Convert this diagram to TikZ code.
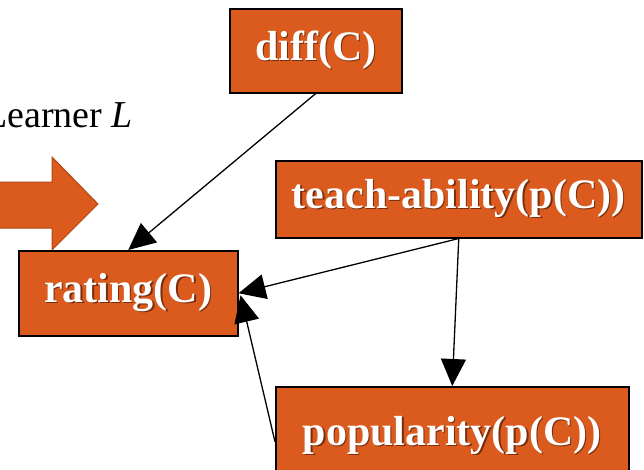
\documentclass[tikz,border=0pt]{standalone}
\usepackage{fontspec}
\setmainfont{Liberation Serif}
\usetikzlibrary{arrows.meta}

\definecolor{boxorange}{RGB}{218,91,29}
\definecolor{arrowedge}{RGB}{180,72,20}
\definecolor{txtshadow}{RGB}{120,45,12}

% white label with a soft dark drop shadow
\newcommand\shadowed[1]{\makebox[0pt][l]{\hspace{1.3pt}\raisebox{-1.3pt}{\color{txtshadow}#1}}#1}

\tikzset{
  varbox/.style={draw=black, line width=1.5pt, fill=boxorange, text=white,
    font=\fontsize{42}{42}\selectfont\bfseries, inner sep=0pt, anchor=north west},
  link/.style={-{Triangle[length=27pt,width=25pt]}, line width=1.3pt},
}

\begin{document}
\begin{tikzpicture}[x=1pt, y=-1pt]
  \useasboundingbox (0,0) rectangle (644,469);
  \clip (0,0) rectangle (644,469);

  % caption on the left, partly outside the frame
  \node[anchor=base east, inner sep=0pt, font=\fontsize{38}{38}\selectfont] (learner)
    at (133,127) {Learner \textit{L}};

  % big block arrow
  \draw[fill=boxorange, draw=arrowedge, line width=1pt]
    (-10,182) -- (52,182) -- (52,157) -- (98,204) -- (52,250) -- (52,228) -- (-10,228) -- cycle;

  % variable boxes
  \node[varbox, minimum width=172pt, minimum height=84pt] (diff) at (229,8) {\shadowed{diff(C)}};
  \node[varbox, minimum width=366pt, minimum height=77pt] (teach) at (275,160) {\shadowed{teach-ability(p(C))}};
  \node[varbox, minimum width=219pt, minimum height=85pt] (rating) at (18,250) {\shadowed{rating(C)}};
  \node[varbox, minimum width=353pt, minimum height=98pt] (pop) at (275,386) {\shadowed{popularity(p(C))}};

  % dependencies
  \draw[link] (diff.south) -- (rating.north);
  \draw[link] (teach.south) -- (rating.east);
  \draw[link] (teach.south) -- (pop.north);
  \draw[link] ([yshift=-6pt]pop.west) -- ([xshift=2pt,yshift=-2pt]rating.east);
\end{tikzpicture}
\end{document}
